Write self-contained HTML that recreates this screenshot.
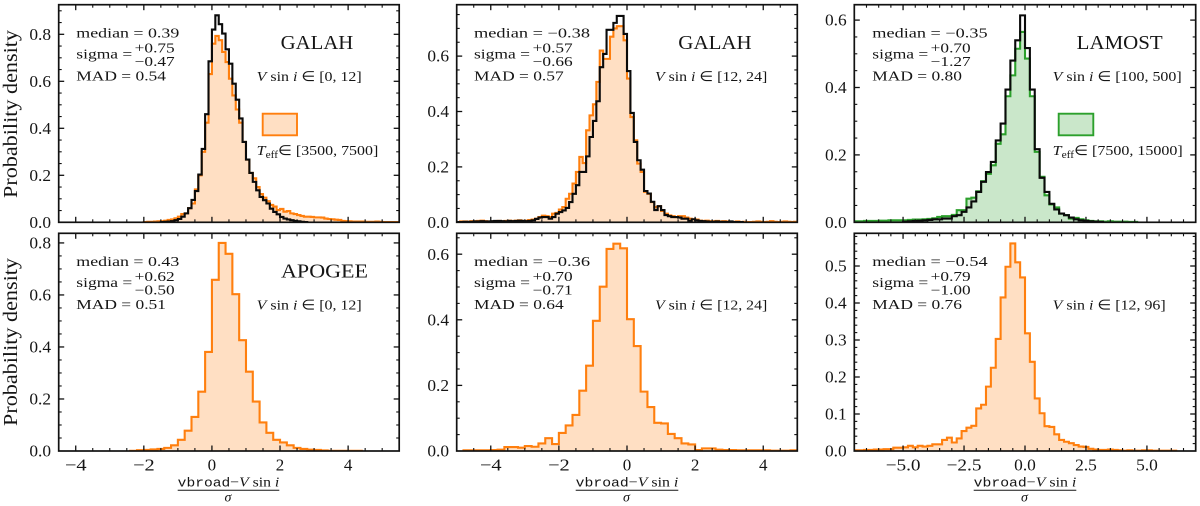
<!DOCTYPE html>
<html lang="en">
<head>
<meta charset="utf-8">
<title>Probability density histograms</title>
<style>
html,body{margin:0;padding:0;background:#fff;}
svg{display:block;}
text{font-family:"Liberation Serif",serif;fill:#151515;}
.note{font-size:13.5px;}
.survey{font-size:20.5px;}
.range{font-size:14px;}
.axis-title{font-size:20px;}
.mono{font-family:"Liberation Mono",monospace;font-size:13px;}
</style>
</head>
<body>
<svg id="figure" xmlns="http://www.w3.org/2000/svg" width="1200" height="506" viewBox="0 0 1200 506">
  <rect width="1200" height="506" fill="#fff"/>
  <g id="panels"></g>

  <g>
    <text class="note" x="76.3" y="37.3" textLength="103">median = 0.39</text>
    <text class="note" x="76.3" y="58.3" textLength="56">sigma =</text>
    <text class="note" x="134.7" y="52.7" textLength="40">+0.75</text>
    <text class="note" x="134.7" y="66" textLength="40">−0.47</text>
    <text class="note" x="76.3" y="80.7" textLength="89.7">MAD = 0.54</text>
    <text class="survey" x="280.7" y="49" textLength="72.6">GALAH</text>
    <text class="range" x="256.7" y="81" textLength="105"><tspan font-style="italic">V</tspan> sin <tspan font-style="italic">i</tspan> ∈ [0, 12]</text>
    <rect x="262.7" y="113.7" width="34.3" height="21.6" fill="#ffdfc3" stroke="#ff7f0e" stroke-width="1.9"/>
    <text class="range" x="256.7" y="155" textLength="121.6"><tspan font-style="italic">T</tspan><tspan font-size="10" dy="3">eff</tspan><tspan dy="-3">∈ [3500, 7500]</tspan></text>
  </g>

  <g>
    <text class="note" x="474" y="37.3" textLength="116">median = −0.38</text>
    <text class="note" x="474" y="58.3" textLength="56">sigma =</text>
    <text class="note" x="532.7" y="52.7" textLength="40">+0.57</text>
    <text class="note" x="532.7" y="66" textLength="40">−0.66</text>
    <text class="note" x="474" y="80.7" textLength="89.7">MAD = 0.57</text>
    <text class="survey" x="678.3" y="49" textLength="73.4">GALAH</text>
    <text class="range" x="655" y="81" textLength="112.3"><tspan font-style="italic">V</tspan> sin <tspan font-style="italic">i</tspan> ∈ [12, 24]</text>
  </g>

  <g>
    <text class="note" x="872.3" y="37.3" textLength="115.3">median = −0.35</text>
    <text class="note" x="872.3" y="58.3" textLength="56">sigma =</text>
    <text class="note" x="930.7" y="52.7" textLength="40">+0.70</text>
    <text class="note" x="930.7" y="66" textLength="40">−1.27</text>
    <text class="note" x="872.3" y="80.7" textLength="89.7">MAD = 0.80</text>
    <text class="survey" x="1076.7" y="49" textLength="86">LAMOST</text>
    <text class="range" x="1052.7" y="81" textLength="129"><tspan font-style="italic">V</tspan> sin <tspan font-style="italic">i</tspan> ∈ [100, 500]</text>
    <rect x="1058.7" y="113.7" width="34.6" height="21.6" fill="#cae7ca" stroke="#2ca02c" stroke-width="1.9"/>
    <text class="range" x="1052.7" y="155" textLength="130"><tspan font-style="italic">T</tspan><tspan font-size="10" dy="3">eff</tspan><tspan dy="-3">∈ [7500, 15000]</tspan></text>
  </g>

  <g>
    <text class="note" x="76.3" y="265.8" textLength="103">median = 0.43</text>
    <text class="note" x="76.3" y="286.8" textLength="56">sigma =</text>
    <text class="note" x="134.7" y="281.2" textLength="40">+0.62</text>
    <text class="note" x="134.7" y="294.5" textLength="40">−0.50</text>
    <text class="note" x="76.3" y="309.2" textLength="89.7">MAD = 0.51</text>
    <text class="survey" x="281" y="277.5" textLength="87">APOGEE</text>
    <text class="range" x="256.7" y="309.5" textLength="105"><tspan font-style="italic">V</tspan> sin <tspan font-style="italic">i</tspan> ∈ [0, 12]</text>
  </g>

  <g>
    <text class="note" x="474" y="265.8" textLength="116">median = −0.36</text>
    <text class="note" x="474" y="286.8" textLength="56">sigma =</text>
    <text class="note" x="532.7" y="281.2" textLength="40">+0.70</text>
    <text class="note" x="532.7" y="294.5" textLength="40">−0.71</text>
    <text class="note" x="474" y="309.2" textLength="89.7">MAD = 0.64</text>
    <text class="range" x="655" y="309.5" textLength="112.3"><tspan font-style="italic">V</tspan> sin <tspan font-style="italic">i</tspan> ∈ [12, 24]</text>
  </g>

  <g>
    <text class="note" x="872.3" y="265.8" textLength="115.3">median = −0.54</text>
    <text class="note" x="872.3" y="286.8" textLength="56">sigma =</text>
    <text class="note" x="930.7" y="281.2" textLength="40">+0.79</text>
    <text class="note" x="930.7" y="294.5" textLength="40">−1.00</text>
    <text class="note" x="872.3" y="309.2" textLength="89.7">MAD = 0.76</text>
    <text class="range" x="1052.7" y="309.5" textLength="113"><tspan font-style="italic">V</tspan> sin <tspan font-style="italic">i</tspan> ∈ [12, 96]</text>
  </g>

  <text class="axis-title" transform="translate(17,198) rotate(-90)" textLength="168">Probability density</text>
  <text class="axis-title" transform="translate(17,426) rotate(-90)" textLength="168">Probability density</text>

  <g>
    <text x="177.7" y="486.7" textLength="101.6" style="font-size:14px"><tspan class="mono">vbroad</tspan>−<tspan font-style="italic">V</tspan> sin <tspan font-style="italic">i</tspan></text>
    <line x1="177.7" x2="279.3" y1="490.3" y2="490.3" stroke="#151515" stroke-width="1"/>
    <text x="228" y="501.7" text-anchor="middle" font-style="italic" style="font-size:14px">σ</text>
  </g>
  <g>
    <text x="575.7" y="486.7" textLength="102.6" style="font-size:14px"><tspan class="mono">vbroad</tspan>−<tspan font-style="italic">V</tspan> sin <tspan font-style="italic">i</tspan></text>
    <line x1="575.7" x2="678.3" y1="490.3" y2="490.3" stroke="#151515" stroke-width="1"/>
    <text x="626.5" y="501.7" text-anchor="middle" font-style="italic" style="font-size:14px">σ</text>
  </g>
  <g>
    <text x="973.7" y="486.7" textLength="102.6" style="font-size:14px"><tspan class="mono">vbroad</tspan>−<tspan font-style="italic">V</tspan> sin <tspan font-style="italic">i</tspan></text>
    <line x1="973.7" x2="1076.3" y1="490.3" y2="490.3" stroke="#151515" stroke-width="1"/>
    <text x="1024.5" y="501.7" text-anchor="middle" font-style="italic" style="font-size:14px">σ</text>
  </g>
</svg>

<script>
/* Tick values and labels */
const xTicksNarrow = [-4, -2, 0, 2, 4];
const xTickLabelsNarrow = ['−4', '−2', '0', '2', '4'];
const xTicksWide = [-5, -2.5, 0, 2.5, 5];
const xTickLabelsWide = ['−5.0', '−2.5', '0.0', '2.5', '5.0'];
const yTicksTenths = [0, 0.2, 0.4, 0.6, 0.8];
const yTickLabelsTenths = ['0.0', '0.2', '0.4', '0.6', '0.8'];
const yTicksFine = [0, 0.1, 0.2, 0.3, 0.4, 0.5];
const yTickLabelsFine = ['0.0', '0.1', '0.2', '0.3', '0.4', '0.5'];

/* Histogram bin starts (data units) and bin widths */
const galahLowOrangeStart = -2.0;
const galahLowBlackStart = -1.5;
const galahMidStart = -5.0;
const lamostGreenStart = -7.0;
const lamostBlackStart = -5.0;
const apogeeLowStart = -2.4;
const apogeeMidStart = -4.8;
const apogeeHighStart = -7.0;
const fineBin = 0.1;
const coarseBin = 0.2;

/* Histogram heights */
const galahLowOrange = [.001,.002,.002,.003,.004,.005,.007,.01,.012,.017,.024,.035,.038,.06,.08,.14,.2,.3,.424,.631,
  .76,.793,.775,.725,.682,.611,.54,.48,.424,.342,.267,.21,.187,.15,.12,.105,.09,.074,.067,.052,.057,.045,.048,.038,.035,.031,.027,.024,.024,.023,.021,.021,.02,.016,.014,.013,.011,.01,.006,.005,.004,.003,.003,.003,.003,.002,.002,.002,.003,.002,.001,.001,.001,.001,.001];
const galahLowBlack = [.001,.002,.003,.005,.009,.014,.024,.038,.06,.095,.133,.203,.312,.46,.685,
  .82,.881,.843,.803,.736,.675,.59,.522,.442,.342,.267,.21,.172,.136,.108,.094,.08,.058,.044,.034,.023,.016,.012,.009,.006,.004,.002,.001];

const galahMidOrange = [.001,.003,.003,.002,.004,.004,.005,.006,.004,.002,.003,.004,.005,.003,.005,.006,.004,.006,.007,.005,.006,.008,.01,
  .013,.019,.024,.022,.019,.031,.034,.046,.055,.085,.103,.14,.182,.236,.214,.332,.386,.426,.507,.62,.59,.59,.67,.7,.708,.708,.657,
  .519,.38,.296,.212,.182,.11,.103,.073,.055,.058,.041,.031,.025,.022,.019,.022,.022,.017,.013,.011,.01,.006,.005,.006,.004,.004,.005,.003,.004,.003,.002,.002,.003,.001,.002,.001,.001,.002,.003,.002,.001,.002,.004,.002,.001,.002,.003,.002,.001,.002];
const galahMidBlack = [.001,.001,.002,.002,.002,.003,.003,.004,.003,.003,.004,.005,.005,.004,.003,.005,.004,.005,.006,.005,.004,.005,.007,
  .012,.017,.019,.019,.013,.019,.031,.037,.043,.052,.073,.103,.134,.182,.182,.238,.308,.366,.437,.56,.608,.695,.695,.72,.745,.745,.68,
  .546,.395,.29,.224,.19,.113,.104,.074,.044,.058,.044,.026,.022,.019,.019,.017,.013,.013,.005,.011,.007,.005,.004,.003,.002,.002,.003,.002,.002,.001,.003,.001,.001,.001];

const lamostGreen = [.003,.003,.004,.004,.004,.005,.005,.006,.006,.006,.006,.007,.008,.008,.009,.01,.012,.016,.018,.018,.022,.036,.036,.07,.073,.092,.122,.144,.169,.233,.261,.374,.436,.515,.565,
  .486,.374,.209,.135,.08,.053,.044,.026,.021,.011,.013,.009,.006,.004,.003,.003,.002,.003,.002,.002,.002,.001,.001];
const lamostBlack = [.002,.003,.004,.005,.006,.007,.009,.009,.011,.011,.018,.021,.031,.044,.062,.09,.12,.149,.179,.243,.293,.394,.48,.54,.614,
  .517,.394,.217,.132,.09,.055,.038,.026,.021,.014,.009,.006,.004,.003,.002,.001];

const apogeeLow = [.001,.003,.004,.006,.008,.012,.022,.043,.078,.131,.228,.381,
  .658,.8,.758,.603,.426,.305,.19,.11,.07,.043,.033,.022,.012,.008,.005,.004,.002,.001,.001,.001,.001,.001];
const apogeeMid = [.002,.002,.002,.002,.003,.004,.012,.012,.01,.015,.013,.023,.039,.021,.055,.078,.11,.184,.26,.397,.501,.616,.632,.618,
  .402,.32,.181,.134,.086,.084,.052,.039,.023,.02,.003,.008,.008,.004,.003,.003,.002,.002,.002,.002,.002,.001,.001,.001,.002];
const apogeeHigh = [.002,.002,.003,.003,.004,.004,.005,.005,.009,.009,.01,.014,.01,.014,.012,.014,.018,.018,.03,.036,.023,.034,.054,.063,.068,.115,.125,.174,.225,.303,.415,.498,.561,.51,.469,
  .318,.241,.142,.102,.067,.065,.045,.03,.025,.021,.016,.012,.011,.006,.004,.003,.003,.004,.003,.002,.001,.002,.001,.001,.002,.002,.001,.001,.001,.001,.001];

/* Panel layout and axis limits */
const colLeft = [58.7, 456.7, 854.3];
const colRight = [399.2, 797.3, 1195.7];
const rowTop = [4.7, 233.3];
const rowBottom = [222.3, 451];
const ORANGE = '#ff7f0e';
const ORANGE_FILL = '#ffdfc3';
const GREEN = '#2ca02c';
const GREEN_FILL = '#cae7ca';
const BLACK = '#0a0a0a';

const panelSpecs = [
  {name:'galah-low', col:0, row:0, xlim:[-4.5,5.5], ymax:.926, xt:xTicksNarrow, xl:xTickLabelsNarrow, yt:yTicksTenths, yl:yTickLabelsTenths, minorY:.05,
   series:[{name:'orange-histogram',v:galahLowOrange,s:galahLowOrangeStart,w:fineBin,stroke:ORANGE,fill:ORANGE_FILL},{name:'black-histogram',v:galahLowBlack,s:galahLowBlackStart,w:fineBin,stroke:BLACK,fill:'none'}]},
  {name:'galah-mid', col:1, row:0, xlim:[-5,5], ymax:.7856, xt:xTicksNarrow, xl:xTickLabelsNarrow, yt:yTicksTenths, yl:yTickLabelsTenths, minorY:.05,
   series:[{name:'orange-histogram',v:galahMidOrange,s:galahMidStart,w:fineBin,stroke:ORANGE,fill:ORANGE_FILL},{name:'black-histogram',v:galahMidBlack,s:galahMidStart,w:fineBin,stroke:BLACK,fill:'none'}]},
  {name:'lamost', col:2, row:0, xlim:[-7,7], ymax:.6457, xt:xTicksWide, xl:xTickLabelsWide, yt:yTicksTenths, yl:yTickLabelsTenths, minorY:.05,
   series:[{name:'green-histogram',v:lamostGreen,s:lamostGreenStart,w:coarseBin,stroke:GREEN,fill:GREEN_FILL},{name:'black-histogram',v:lamostBlack,s:lamostBlackStart,w:coarseBin,stroke:BLACK,fill:'none'}]},
  {name:'apogee-low', col:0, row:1, xlim:[-4.5,5.5], ymax:.837, xt:xTicksNarrow, xl:xTickLabelsNarrow, yt:yTicksTenths, yl:yTickLabelsTenths, minorY:.05,
   series:[{name:'orange-histogram',v:apogeeLow,s:apogeeLowStart,w:coarseBin,stroke:ORANGE,fill:ORANGE_FILL}]},
  {name:'apogee-mid', col:1, row:1, xlim:[-5,5], ymax:.6637, xt:xTicksNarrow, xl:xTickLabelsNarrow, yt:yTicksTenths, yl:yTickLabelsTenths, minorY:.05,
   series:[{name:'orange-histogram',v:apogeeMid,s:apogeeMidStart,w:coarseBin,stroke:ORANGE,fill:ORANGE_FILL}]},
  {name:'apogee-high', col:2, row:1, xlim:[-7,7], ymax:.5884, xt:xTicksWide, xl:xTickLabelsWide, yt:yTicksFine, yl:yTickLabelsFine, minorY:.02,
   series:[{name:'orange-histogram',v:apogeeHigh,s:apogeeHighStart,w:coarseBin,stroke:ORANGE,fill:ORANGE_FILL}]}
];

const NS = 'http://www.w3.org/2000/svg';
function make(parent, tag, attrs) {
  const e = document.createElementNS(NS, tag);
  for (const k in attrs) e.setAttribute(k, attrs[k]);
  parent.appendChild(e);
  return e;
}
function labelWidth(s) {
  let w = 0;
  for (const c of s) w += c === '−' ? .778 : c === '.' ? .278 : .5;
  return w * 17;
}
function stepPath(vals, start, width, xs, ys) {
  let d = 'M' + xs(start).toFixed(2) + ' ' + ys(0).toFixed(2);
  vals.forEach(function (v, i) {
    const a = xs(start + i * width).toFixed(2);
    const b = xs(start + (i + 1) * width).toFixed(2);
    const y = ys(v).toFixed(2);
    d += 'L' + a + ' ' + y + 'L' + b + ' ' + y;
  });
  d += 'L' + xs(start + vals.length * width).toFixed(2) + ' ' + ys(0).toFixed(2);
  return d;
}

const root = document.getElementById('panels');
const defs = make(root, 'defs', {});

panelSpecs.forEach(function (p) {
  const L = colLeft[p.col], R = colRight[p.col], T = rowTop[p.row], B = rowBottom[p.row];
  const xs = function (v) { return L + (v - p.xlim[0]) / (p.xlim[1] - p.xlim[0]) * (R - L); };
  const ys = function (v) { return B - v / p.ymax * (B - T); };

  const clip = make(defs, 'clipPath', {id: 'clip-' + p.name});
  make(clip, 'rect', {x: L, y: T, width: R - L, height: B - T});

  const g = make(root, 'g', {});
  
  

  p.series.forEach(function (s) {
    const d = stepPath(s.v, s.s, s.w, xs, ys);
    if (s.fill !== 'none') {
      const area = make(g, 'path', {d: d + 'Z', fill: s.fill, stroke: 'none', 'clip-path': 'url(#clip-' + p.name + ')'});
      
      
    }
    const line = make(g, 'path', {d: d, fill: 'none', stroke: s.stroke, 'stroke-width': 2.1, 'stroke-linejoin': 'miter', 'clip-path': 'url(#clip-' + p.name + ')'});
    
    
  });

  const ticks = make(g, 'g', {stroke: '#111'});
  
  

  function drawX(v, len, w) {
    const x = xs(v);
    make(ticks, 'line', {x1: x, x2: x, y1: B, y2: B - len, 'stroke-width': w});
    make(ticks, 'line', {x1: x, x2: x, y1: T, y2: T + len, 'stroke-width': w});
  }
  function drawY(v, len, w) {
    const y = ys(v);
    make(ticks, 'line', {x1: L, x2: L + len, y1: y, y2: y, 'stroke-width': w});
    make(ticks, 'line', {x1: R, x2: R - len, y1: y, y2: y, 'stroke-width': w});
  }

  for (let k = Math.ceil(p.xlim[0] / .5); k * .5 <= p.xlim[1]; k++) {
    const v = k * .5;
    if (!p.xt.includes(v)) drawX(v, 3, 1.1);
  }
  for (let k = 1; k * p.minorY < p.ymax; k++) {
    const v = +(k * p.minorY).toFixed(3);
    if (!p.yt.includes(v)) drawY(v, 3, 1.1);
  }
  p.xt.forEach(function (v) { drawX(v, 5.5, 1.3); });
  p.yt.forEach(function (v) { if (v > 0 && v < p.ymax) drawY(v, 5.5, 1.3); });

  const frame = make(g, 'rect', {x: L, y: T, width: R - L, height: B - T, fill: 'none', stroke: '#111', 'stroke-width': 1.7});
  
  

  p.yt.forEach(function (v, i) {
    if (v >= p.ymax) return;
    const t = make(g, 'text', {x: L - 7.6, y: ys(v) + 5.6, 'text-anchor': 'end', 'font-size': 17, textLength: labelWidth(p.yl[i])});
    t.textContent = p.yl[i];
    
    
  });
  if (p.row === 1) {
    p.xt.forEach(function (v, i) {
      const t = make(g, 'text', {x: xs(v), y: 470.7, 'text-anchor': 'middle', 'font-size': 17, textLength: labelWidth(p.xl[i])});
      t.textContent = p.xl[i];
      
      
    });
  }
});

/* Stretch glyphs to the measured widths instead of adding letter gaps */
document.querySelectorAll('text[textLength]').forEach(function (t) {
  t.setAttribute('lengthAdjust', 'spacingAndGlyphs');
});
</script>
</body>
</html>
